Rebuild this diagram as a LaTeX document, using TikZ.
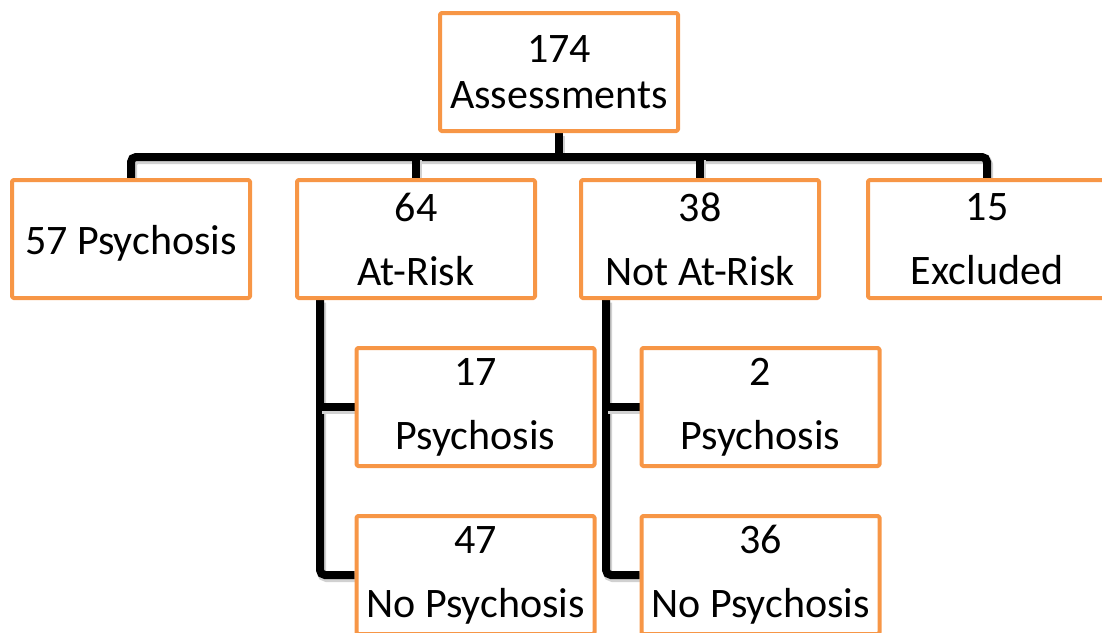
\documentclass[tikz,border=0pt]{standalone}
\usepackage{fontspec}
\setmainfont{Carlito}
\usetikzlibrary{backgrounds}
\definecolor{boxorange}{HTML}{F79646}
\begin{document}
\begin{tikzpicture}[x=1pt, y=-1pt, line cap=round, line join=round,
    box/.style={draw=boxorange, line width=4pt, rounded corners=1.5pt, fill=white,
      minimum width=238pt, minimum height=118pt, inner sep=0pt, align=center,
      font=\fontsize{42}{64}\selectfont},
    link/.style={line width=8pt, rounded corners=5pt,
      preaction={draw=black!18, line width=9pt, transform canvas={shift={(1.5,2.5)}}}}]
  \useasboundingbox (0,0) rectangle (1102,632);
  % top
  \node[box, font=\fontsize{42}{46}\selectfont] (total) at (559,72) {174\\Assessments};
  % first split
  \node[box] (psy) at (131,239) {\raisebox{-4pt}[\height][\depth]{57 Psychosis}};
  \node[box] (risk) at (416,239) {64\\At-Risk};
  \node[box] (norisk) at (700,239) {38\\Not At-Risk};
  \node[box] (excl) at (987,239) {15\\Excluded};
  % follow-up
  \node[box] (rpsy) at (475.5,407) {17\\Psychosis};
  \node[box] (rnopsy) at (475.5,575) {47\\No Psychosis};
  \node[box] (npsy) at (760.5,407) {2\\Psychosis};
  \node[box] (nnopsy) at (760.5,575) {36\\No Psychosis};
  % links
  \begin{scope}[on background layer]
    \coordinate (bar) at ([yshift=-24pt]total.south);
    \draw[link] (total.south) -- (bar);
    \draw[link] (psy.north) |- (bar) -| (excl.north);
    \draw[link] (risk.north) -- (risk.north |- bar);
    \draw[link] (norisk.north) -- (norisk.north |- bar);
    \coordinate (rtrunk) at ([xshift=25pt]risk.south west);
    \coordinate (ntrunk) at ([xshift=27pt]norisk.south west);
    \draw[link] (rtrunk) |- (rnopsy.west);
    \draw[link] (rtrunk |- rpsy.west) -- (rpsy.west);
    \draw[link] (ntrunk) |- (nnopsy.west);
    \draw[link] (ntrunk |- npsy.west) -- (npsy.west);
  \end{scope}
\end{tikzpicture}
\end{document}
